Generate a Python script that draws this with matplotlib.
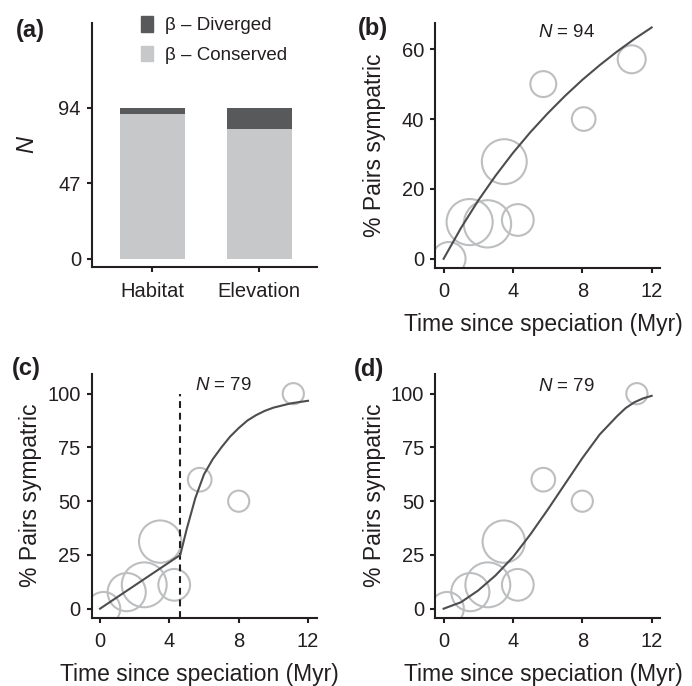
import numpy as np
import matplotlib.pyplot as plt
from matplotlib.patches import Patch

plt.rcParams['font.family'] = ['Liberation Sans', 'DejaVu Sans']
plt.rcParams['mathtext.fontset'] = 'custom'
plt.rcParams['mathtext.rm'] = 'Liberation Sans'
plt.rcParams['mathtext.it'] = 'Liberation Sans:italic'

# (a) stacked bars
traits = ['Habitat', 'Elevation']
conserved = [90, 81]
diverged = [4, 13]

# (b) all pairs, N = 94
time_b = [0.3, 1.5, 2.53, 3.5, 4.28, 5.75, 8.08, 10.85]
sym_b = [0, 10.5, 10, 27.8, 11.1, 50, 40, 57.1]
pairs_b = [10, 19, 20, 18, 9, 6, 5, 7]
fit_b_t = [0, 1, 2, 3, 4, 5, 6, 7, 8, 9, 10, 11, 12]
fit_b = [0, 8.8, 16.7, 23.8, 30.3, 36.2, 41.6, 46.6, 51.2, 55.4, 59.3, 62.9, 66.2]

# (c), (d) subset, N = 79
time_cd = [0.2, 1.54, 2.55, 3.47, 4.28, 5.75, 8.0, 11.15]
sym_cd = [0, 7.7, 11.1, 31.2, 11.1, 60, 50, 100]
pairs_cd = [10, 13, 18, 16, 9, 5, 4, 4]
breakpoint_t = 4.63
fit_c_t = [0, 4.63, 4.8, 5.0, 5.5, 6.0, 6.5, 7.0, 7.5, 8.0, 8.5, 9.0, 9.5, 10, 11, 12]
fit_c = [0, 25, 30.5, 37, 51.5, 62.5, 69.5, 75, 80, 84, 87.5, 90, 92, 93.5, 95.5, 96.7]
fit_d_t = [0, 1, 2, 3, 4, 5, 6, 7, 8, 9, 10, 10.5, 11, 11.5, 12]
fit_d = [0, 3.0, 8.5, 15.5, 24, 34.5, 46, 58, 70, 81, 89.5, 93.3, 96, 97.8, 99]

ink = '#231f20'
light = '#c7c8ca'
dark = '#58595b'
ring = '#bcbec0'
line = '#4d4d4f'
W, H = 692, 686

fig = plt.figure(figsize=(W / 100, H / 100), dpi=100)


def px_axes(left, top, right, bottom):
    return fig.add_axes([left / W, 1 - bottom / H, (right - left) / W, (bottom - top) / H])


def style(ax):
    for s in ['top', 'right']:
        ax.spines[s].set_visible(False)
    for s in ['left', 'bottom']:
        ax.spines[s].set_linewidth(1.5)
        ax.spines[s].set_color(ink)
    ax.tick_params(direction='out', length=3.5, width=1.5, labelsize=14.5,
                   colors=ink)
    ax.tick_params(axis='x', pad=7)
    ax.tick_params(axis='y', pad=4.5)


def bubbles(ax, t, y, n):
    ax.scatter(t, y, s=[58 * k for k in n], facecolors='none',
               edgecolors=ring, linewidths=1.5, zorder=2)


def time_axes(ax, ylim, yticks):
    style(ax)
    ax.set_xlim(-0.48, 12.5)
    ax.set_ylim(*ylim)
    ax.set_xticks([0, 4, 8, 12])
    ax.set_yticks(yticks)
    ax.set_xlabel('Time since speciation (Myr)', fontsize=16.5, color=ink)
    ax.set_ylabel('% Pairs sympatric', fontsize=16.5, color=ink)
    ax.xaxis.set_label_coords(0.48, -57 / 244)
    ax.xaxis.label.set_va('center')
    ax.yaxis.set_label_coords(-0.272, 0.5)
    ax.yaxis.label.set_va('center')


# (a)
ax = px_axes(92, 22.7, 317, 267)
style(ax)
x = np.arange(len(traits))
ax.bar(x, conserved, width=0.607, color=light)
ax.bar(x, diverged, bottom=conserved, width=0.607, color=dark)
ax.set_xlim(-0.564, 1.539)
ax.set_ylim(-5.2, 147)
ax.set_xticks(x)
ax.set_xticklabels(traits)
ax.set_yticks([0, 47, 94])
ax.set_ylabel('$N$', fontsize=17, color=ink)
ax.yaxis.set_label_coords(-0.285, 0.5)
ax.yaxis.label.set_va('center')
handles = [Patch(color=dark, label='β – Diverged'),
           Patch(color=light, label='β – Conserved')]
fig.legend(handles=handles, loc='upper left',
           bbox_to_anchor=(141 / W, 1 - 16 / H), frameon=False,
           borderpad=0, borderaxespad=0, handlelength=0.65,
           handleheight=0.9, handletextpad=0.64, labelspacing=0.6,
           fontsize=13.5, labelcolor=ink)

# (b)
ax = px_axes(435.3, 23.3, 660.3, 267.5)
time_axes(ax, (-2.5, 67.4), [0, 20, 40, 60])
bubbles(ax, time_b, sym_b, pairs_b)
ax.plot(fit_b_t, fit_b, color=line, lw=1.5, zorder=3)
ax.text(7.1, 64.9, '$N$ = 94', ha='center', va='center', fontsize=13.5,
        color=ink)

# (c)
ax = px_axes(91.7, 373.7, 316.7, 617.5)
time_axes(ax, (-4.1, 109.3), [0, 25, 50, 75, 100])
bubbles(ax, time_cd, sym_cd, pairs_cd)
ax.plot([breakpoint_t, breakpoint_t], [-4.1, 100], color=ink, lw=1.5,
        ls=(0, (3.3, 2.3)), zorder=3)
ax.plot(fit_c_t, fit_c, color=line, lw=1.5, zorder=3)
ax.text(7.1, 103.7, '$N$ = 79', ha='center', va='center', fontsize=13.5,
        color=ink)

# (d)
ax = px_axes(435.3, 373.7, 660.3, 617.5)
time_axes(ax, (-4.1, 109.3), [0, 25, 50, 75, 100])
bubbles(ax, time_cd, sym_cd, pairs_cd)
ax.plot(fit_d_t, fit_d, color=line, lw=1.5, zorder=3)
ax.text(7.1, 103.4, '$N$ = 79', ha='center', va='center', fontsize=13.5,
        color=ink)

for lbl, (px, py) in zip(['(a)', '(b)', '(c)', '(d)'],
                         [(30.7, 30.7), (372.7, 28.3), (26.7, 368), (369.3, 369.7)]):
    fig.text(px / W, 1 - py / H, lbl, fontsize=17, fontweight='bold',
             ha='center', va='center', color=ink)

fig.savefig('out.png', dpi=100)
